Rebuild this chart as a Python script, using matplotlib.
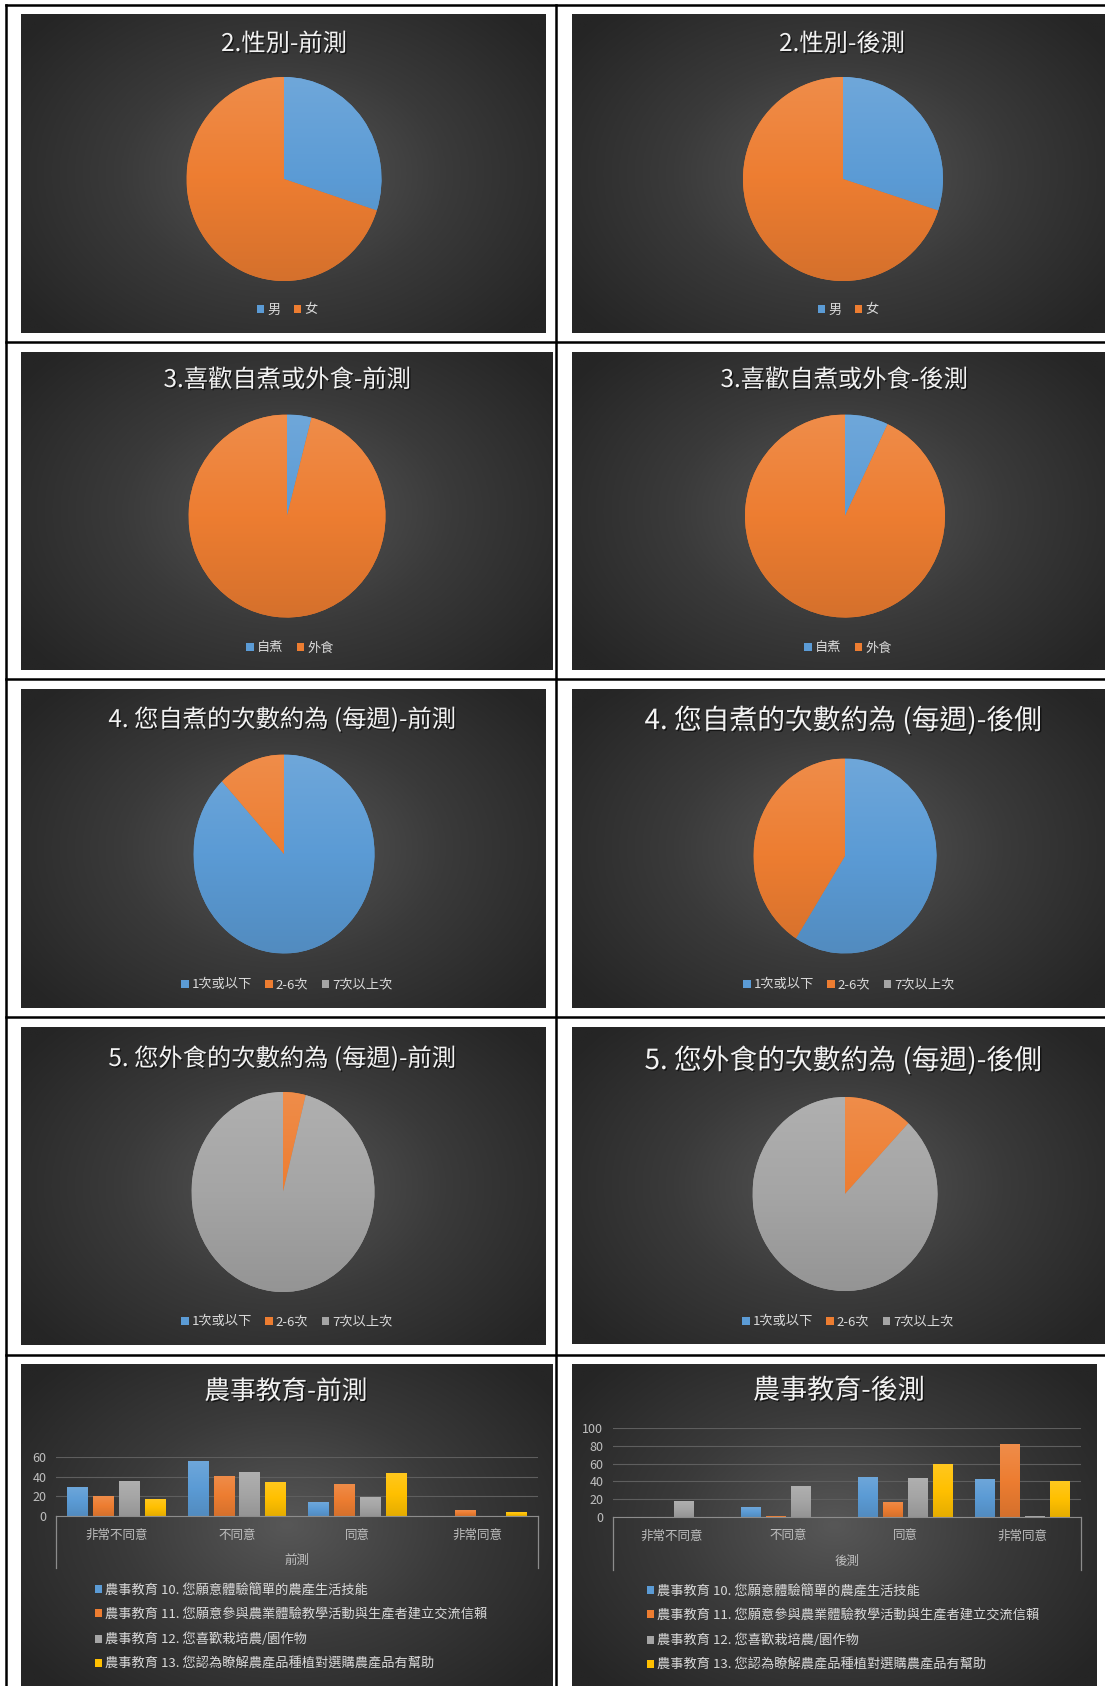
import numpy as np
import matplotlib
matplotlib.use("Agg")
from matplotlib import pyplot as plt
from matplotlib.lines import Line2D
from matplotlib.patches import Patch
from matplotlib.colors import LinearSegmentedColormap, to_rgb
import matplotlib.patheffects as pe

plt.rcParams['font.family'] = ['Noto Sans CJK TC', 'DejaVu Sans']

W, H = 1105, 1686

# ---- data ----
sex_labels = ["男", "女"]
sex_pre = [30, 70]
sex_post = [30, 70]

cook_labels = ["自煮", "外食"]
cook_pre = [4, 96]
cook_post = [7, 93]

freq_labels = ["1次或以下", "2-6次", "7次以上次"]
selfcook_pre = [88, 12, 0]
selfcook_post = [59, 41, 0]
eatout_pre = [0, 4, 96]
eatout_post = [0, 12, 88]

edu_cats = ["非常不同意", "不同意", "同意", "非常同意"]
edu_series = ["農事教育 10. 您願意體驗簡單的農產生活技能",
              "農事教育 11. 您願意參與農業體驗教學活動與生產者建立交流信賴",
              "農事教育 12. 您喜歡栽培農/園作物",
              "農事教育 13. 您認為瞭解農產品種植對選購農產品有幫助"]
edu_pre = [[30, 56, 14, 0],
           [20, 41, 33, 6],
           [36, 45, 19, 0],
           [17, 35, 44, 4]]
edu_post = [[0, 11, 45, 43],
            [0, 1, 17, 82],
            [18, 35, 44, 1],
            [0, 0.4, 59, 40]]

BLUE, ORANGE, GRAY, YELLOW = '#5B9BD5', '#ED7D31', '#A5A5A5', '#FFC000'
pie2 = [BLUE, ORANGE]
pie3 = [BLUE, ORANGE, GRAY]
bar_colors = [BLUE, ORANGE, GRAY, YELLOW]

bg_cmap = LinearSegmentedColormap.from_list('bg', ['#575757', '#3a3a3a', '#252525'])
vgrad = np.linspace(0, 1, 100).reshape(-1, 1)


def shade(c):
    # lighter top, darker bottom, like the office style fill
    c = np.array(to_rgb(c))
    top = c + (1 - c) * 0.12
    bot = c * 0.9
    return LinearSegmentedColormap.from_list('g', [top, c, bot])


def rect(x0, y0, x1, y1):
    return [x0 / W, 1 - y1 / H, (x1 - x0) / W, (y1 - y0) / H]


def panel(x0, y0, x1, y1):
    ax = fig.add_axes(rect(x0, y0, x1, y1))
    yy, xx = np.mgrid[0:1:200j, 0:1:300j]
    r = np.sqrt(((xx - 0.5) / 0.62) ** 2 + ((yy - 0.5) / 0.72) ** 2)
    ax.imshow(np.clip(r, 0, 1), cmap=bg_cmap, vmin=0, vmax=1, aspect='auto',
              extent=[0, 1, 0, 1], interpolation='bilinear')
    ax.set_axis_off()
    return ax


def title(cx, cy, txt, size):
    fig.text(cx / W, 1 - cy / H, txt, ha='center', va='center', fontsize=size,
             color='#f2f2f2',
             path_effects=[pe.withSimplePatchShadow(offset=(1, -1), shadow_rgbFace='k', alpha=0.6)])


def pie(cx, cy, rx, ry, vals, colors):
    ax = fig.add_axes(rect(cx - rx, cy - ry, cx + rx, cy + ry))
    wedges, _ = ax.pie(vals, colors=colors, startangle=90, counterclock=False, radius=1,
                       wedgeprops=dict(linewidth=0))
    for w, c in zip(wedges, colors):
        im = ax.imshow(vgrad, cmap=shade(c), extent=[-1, 1, -1, 1], aspect='auto',
                       origin='upper', interpolation='bilinear', zorder=w.get_zorder() + 0.1)
        im.set_clip_path(w)
    ax.set_xlim(-1, 1)
    ax.set_ylim(-1, 1)
    ax.set_aspect('auto')
    ax.set_axis_off()


def pie_legend(cx, cy, labels, colors):
    handles = [Patch(facecolor=c, label=l) for l, c in zip(labels, colors)]
    fig.legend(handles=handles, loc='center', bbox_to_anchor=(cx / W, 1 - cy / H),
               ncol=len(labels), frameon=False, fontsize=9.5, labelcolor='#d9d9d9',
               handlelength=0.55, handleheight=0.55, handletextpad=0.25,
               columnspacing=1.0, borderpad=0)


def bar_chart(x0, top, x1, base, box_bottom, ymax, ystep, data, xlabel, lx, ly):
    ax = fig.add_axes(rect(x0, top, x1, base))
    ax.set_facecolor('none')
    x = np.arange(len(edu_cats))
    for i, (vals, c) in enumerate(zip(data, bar_colors)):
        bars = ax.bar(x + (i - 1.5) * 0.215, vals, width=0.17, color=c, label=edu_series[i])
        for b in bars:
            if b.get_height() <= 0:
                continue
            im = ax.imshow(vgrad, cmap=shade(c), aspect='auto', origin='upper',
                           extent=[b.get_x(), b.get_x() + b.get_width(), 0, b.get_height()],
                           interpolation='bilinear', zorder=b.get_zorder() + 0.1)
            im.set_clip_path(b)
    ax.set_xlim(-0.5, len(edu_cats) - 0.5)
    ax.set_ylim(0, ymax)
    ax.set_yticks(np.arange(0, ymax + 1, ystep))
    ax.set_xticks(x, edu_cats)
    ax.yaxis.grid(True, color='#5e5e5e', lw=0.8)
    ax.set_axisbelow(True)
    for s in ['top', 'left', 'right']:
        ax.spines[s].set_visible(False)
    ax.spines['bottom'].set_color('#8c8c8c')
    ax.spines['bottom'].set_zorder(5)
    ax.tick_params(axis='both', length=0, colors='#bfbfbf', labelsize=9)
    ax.tick_params(axis='y', pad=7)
    ax.tick_params(axis='x', pad=9)
    ax.set_xlabel(xlabel, color='#bfbfbf', fontsize=9, labelpad=9)
    ext = (box_bottom - base) / (base - top) * ymax
    for xe in [-0.5, len(edu_cats) - 0.5]:
        ax.plot([xe, xe], [0, -ext], color='#8c8c8c', lw=0.9, clip_on=False)
    handles = [Patch(facecolor=c, label=l) for l, c in zip(edu_series, bar_colors)]
    fig.legend(handles=handles, loc='upper left', bbox_to_anchor=(lx / W, 1 - ly / H),
               ncol=1, frameon=False, fontsize=9.5, labelcolor='#d9d9d9',
               handlelength=0.55, handleheight=0.55, handletextpad=0.2,
               labelspacing=0.88, borderpad=0, borderaxespad=0)


fig = plt.figure(figsize=(W / 100, H / 100), dpi=100, facecolor='white')

# panels
for (x0, y0, x1, y1) in [(21, 14, 546, 333), (572, 14, 1105, 333),
                         (21, 352, 553, 670), (572, 352, 1105, 670),
                         (21, 689, 546, 1008), (572, 689, 1105, 1008),
                         (21, 1027, 546, 1345), (572, 1027, 1105, 1344),
                         (21, 1364, 553, 1686), (572, 1364, 1097, 1686)]:
    panel(x0, y0, x1, y1)

# row 1
title(284, 44, "2.性別-前測", 17.5)
title(842, 44, "2.性別-後測", 17.5)
pie(284, 179, 97.5, 102, sex_pre, pie2)
pie(843, 179, 100, 102, sex_post, pie2)
pie_legend(287, 310, sex_labels, pie2)
pie_legend(848, 310, sex_labels, pie2)

# row 2
title(287, 380, "3.喜歡自煮或外食-前測", 17.5)
title(844, 380, "3.喜歡自煮或外食-後測", 17.5)
pie(287, 516, 98.5, 101.5, cook_pre, pie2)
pie(845, 516, 100, 101.5, cook_post, pie2)
pie_legend(290, 648, cook_labels, pie2)
pie_legend(848, 648, cook_labels, pie2)

# row 3
title(282, 720, "4. 您自煮的次數約為 (每週)-前測", 17.5)
title(843, 721, "4. 您自煮的次數約為 (每週)-後側", 20)
pie(284, 854, 90.5, 99.5, selfcook_pre, pie3)
pie(845, 856, 91.5, 97.5, selfcook_post, pie3)
pie_legend(287, 985, freq_labels, pie3)
pie_legend(849, 985, freq_labels, pie3)

# row 4
title(282, 1059, "5. 您外食的次數約為 (每週)-前測", 17.5)
title(843, 1061, "5. 您外食的次數約為 (每週)-後側", 20)
pie(283, 1192, 91.5, 100, eatout_pre, pie3)
pie(845, 1194, 92.5, 97, eatout_post, pie3)
pie_legend(287, 1322, freq_labels, pie3)
pie_legend(848, 1322, freq_labels, pie3)

# row 5
title(286, 1392, "農事教育-前測", 18.5)
title(839, 1391, "農事教育-後測", 19.5)
bar_chart(56, 1457, 538, 1516, 1568, 60, 20, edu_pre, "前測", 95, 1583)
bar_chart(613, 1428, 1081, 1517, 1570, 100, 20, edu_post, "後測", 647, 1584)

# table lines
lk = dict(color='black', lw=1.8, transform=fig.transFigure)
fig.add_artist(Line2D([6 / W, 6 / W], [0, 1 - 5 / H], **lk))
fig.add_artist(Line2D([556 / W, 556 / W], [0, 1 - 5 / H], **lk))
for yl in [5, 342, 679, 1017, 1355]:
    fig.add_artist(Line2D([6 / W, 1], [1 - yl / H, 1 - yl / H], **lk))

fig.savefig("out.png", dpi=100, facecolor='white')
